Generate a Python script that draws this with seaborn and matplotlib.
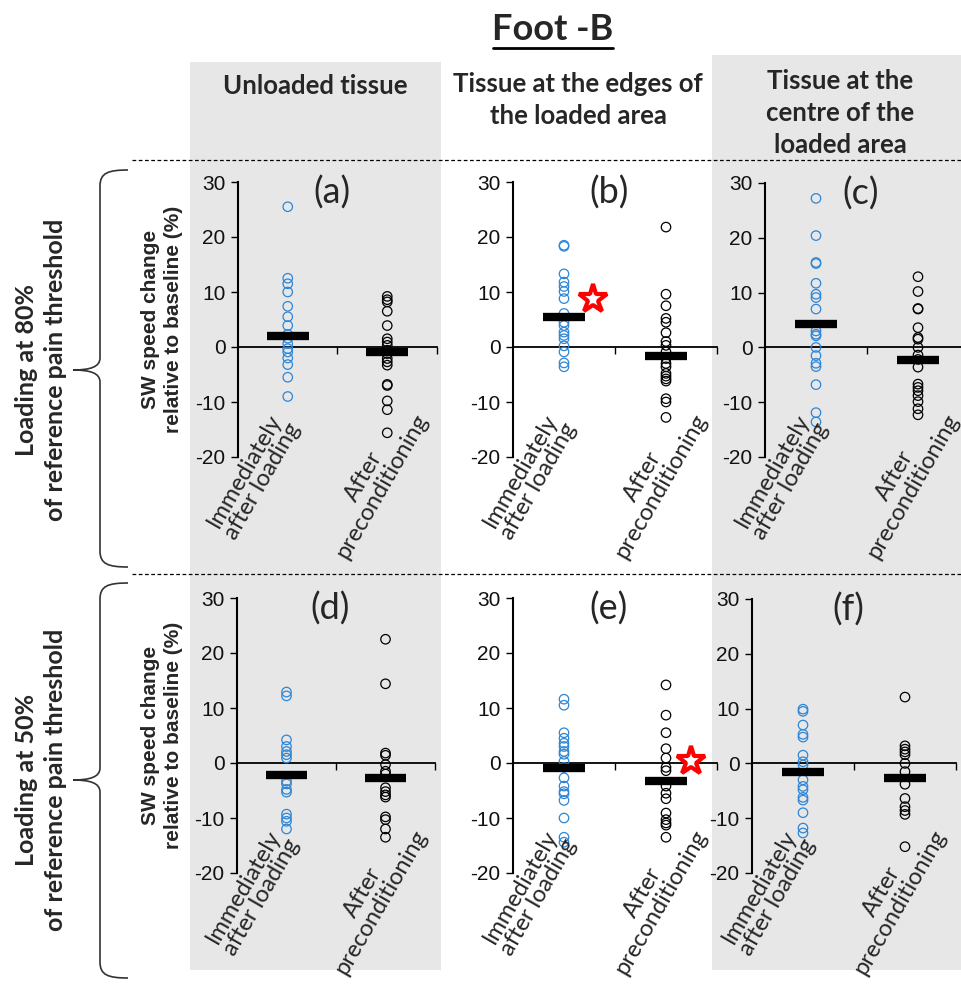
import numpy as np
import pandas as pd
import matplotlib
matplotlib.use("Agg")
import matplotlib.pyplot as plt
import matplotlib.transforms as mtransforms
import seaborn as sns
from matplotlib.patches import Rectangle, PathPatch
from matplotlib.path import Path
from matplotlib.lines import Line2D

sns.set_theme(style="white")
plt.rcParams["font.family"] = ["Lato", "DejaVu Sans"]
plt.rcParams["axes.unicode_minus"] = False

# ---------------- data ----------------
conditions = ["Immediately\nafter loading", "After\npreconditioning"]
panel_letters = ["(a)", "(b)", "(c)", "(d)", "(e)", "(f)"]
column_titles = ["Unloaded tissue", "Tissue at the edges of\nthe loaded area",
                 "Tissue at the\ncentre of the\nloaded area"]
row_titles = ["Loading at 80%\nof reference pain threshold",
              "Loading at 50%\nof reference pain threshold"]
y_ticks = [-20, -10, 0, 10, 20, 30]

# 80% loading
a_loading = [25.5, 12.5, 11.5, 10.0, 7.4, 5.5, 3.9, 2.3, 1.6, 0.6, -0.3, -0.9, -2.0, -3.2, -5.5, -9.0]
a_precond = [9.2, 8.6, 8.2, 6.5, 3.9, 1.5, 0.9, 0.3, -0.6, -1.2, -2.1, -2.7, -3.3, -6.8, -7.0, -9.8, -11.4, -15.6]
b_loading = [18.5, 18.3, 13.3, 11.8, 11.0, 10.1, 8.8, 6.1, 4.5, 3.9, 2.7, 2.1, 1.5, 0.2, -0.9, -2.9, -3.6]
b_precond = [21.8, 9.6, 7.5, 5.2, 4.5, 2.6, 1.0, 0.3, -0.9, -2.1, -3.0, -3.6, -4.8, -5.3, -5.8, -6.2, -9.4, -10.0, -12.8]
c_loading = [27.2, 20.4, 15.5, 15.3, 11.7, 9.7, 9.1, 7.0, 3.0, 2.4, 2.1, 0.0, -1.5, -2.9, -3.5, -6.8, -11.9, -13.6]
c_precond = [12.9, 10.2, 7.1, 7.0, 3.6, 1.8, 1.5, 0.0, -1.4, -2.2, -3.6, -6.7, -7.3, -7.9, -8.8, -9.9, -11.2, -12.3]
# 50% loading
d_loading = [12.9, 12.2, 4.2, 3.0, 2.1, 1.5, 0.9, -3.3, -3.8, -4.8, -5.3, -9.3, -10.0, -10.6, -12.0]
d_precond = [22.5, 14.4, 1.8, 1.4, -0.3, -1.5, -2.0, -4.5, -5.2, -5.8, -6.2, -9.8, -10.3, -12.0, -13.5]
e_loading = [11.6, 10.5, 5.5, 4.5, 3.6, 3.0, 2.1, 1.6, 0.3, -0.8, -2.7, -4.2, -5.2, -5.6, -6.8, -10.0, -13.5, -14.4]
e_precond = [14.2, 8.7, 5.5, 2.6, 0.9, -0.8, -1.4, -4.2, -5.5, -6.5, -9.1, -10.3, -10.9, -11.3, -13.5]
f_loading = [9.9, 9.5, 7.0, 5.3, 4.8, 1.5, 0.3, -0.3, -3.0, -4.2, -4.8, -6.2, -6.7, -9.0, -11.8, -12.7]
f_precond = [12.1, 3.2, 2.6, 2.1, 1.6, 0.0, -1.5, -3.8, -6.4, -7.9, -8.6, -9.3, -15.2]

# black bars (group centre values)
centre_loading = [2.0, 5.4, 4.2, -2.1, -0.9, -1.6]
centre_precond = [-0.9, -1.6, -2.3, -2.8, -3.2, -2.6]

# red stars (panel index, x position in category units, y value)
star_panels = [1, 4]
star_x = [0.28, 1.25]
star_y = [8.8, 0.3]

loading_sets = [a_loading, b_loading, c_loading, d_loading, e_loading, f_loading]
precond_sets = [a_precond, b_precond, c_precond, d_precond, e_precond, f_precond]

BLUE = "#2E86D6"
GRAY = "#E7E7E7"
W, H = 962, 986


def fx(px):
    return px / W


def fy(py):
    return 1 - py / H


fig = plt.figure(figsize=(W / 100, H / 100), dpi=100)
fig.patch.set_facecolor("white")

# grey column backgrounds
fig.add_artist(Rectangle((fx(190), fy(970)), fx(441) - fx(190), fy(62) - fy(970),
                         transform=fig.transFigure, facecolor=GRAY, edgecolor="none", zorder=-5))
fig.add_artist(Rectangle((fx(712), fy(970)), fx(962) - fx(712), fy(55) - fy(970),
                         transform=fig.transFigure, facecolor=GRAY, edgecolor="none", zorder=-5))

# axes boxes in pixels: left, top, right, bottom
boxes = [(238, 182, 437, 457), (513, 182, 717, 457), (765, 183, 969, 457),
         (237, 598, 435, 873), (513, 598, 717, 873), (752, 599, 956, 873)]

for i, (l, t, r, b) in enumerate(boxes):
    ax = fig.add_axes([fx(l), fy(b), fx(r) - fx(l), fy(t) - fy(b)])
    ax.set_facecolor("none")
    df = pd.DataFrame({
        "cond": [conditions[0]] * len(loading_sets[i]) + [conditions[1]] * len(precond_sets[i]),
        "val": loading_sets[i] + precond_sets[i],
    })
    sns.stripplot(data=df, x="cond", y="val", hue="cond", order=conditions,
                  hue_order=conditions, palette=[BLUE, "black"], jitter=False,
                  size=6.8, linewidth=0.9, legend=False, ax=ax, zorder=3)
    for coll in ax.collections:
        fc = coll.get_facecolor()
        coll.set_edgecolor(fc)
        coll.set_facecolor("none")

    # group centre bars
    for k, v in enumerate([centre_loading[i], centre_precond[i]]):
        ax.plot([k - 0.21, k + 0.21], [v, v], color="black", lw=6, solid_capstyle="butt", zorder=4)

    ax.set_xlim(-0.5, 1.5)
    ax.set_ylim(-20, 30)
    ax.set_xlabel("")
    ax.set_ylabel("")
    ax.set_xticks([0.5, 1.5])
    ax.set_xticklabels([])
    ax.set_yticks(y_ticks)
    ax.set_yticklabels([str(v) for v in y_ticks], fontfamily="Liberation Sans", fontsize=15, color="#111111")
    ax.tick_params(axis="y", direction="out", length=5, width=1, pad=4, left=True, color="black")
    ax.tick_params(axis="x", direction="out", length=5, width=1, bottom=True, color="black")
    for s in ["top", "right"]:
        ax.spines[s].set_visible(False)
    ax.spines["bottom"].set_position(("data", 0))
    ax.spines["left"].set_linewidth(1.5)
    ax.spines["bottom"].set_linewidth(1.3)
    ax.spines["left"].set_color("black")
    ax.spines["bottom"].set_color("black")

    # category labels
    trans = mtransforms.blended_transform_factory(ax.transData, ax.transAxes)
    ax.text(-0.34, -0.068, conditions[0], transform=trans, rotation=60, ha="center",
            va="center", fontsize=17, linespacing=1.0, clip_on=False)
    ax.text(0.86, -0.088, conditions[1], transform=trans, rotation=60, ha="center",
            va="center", fontsize=17, linespacing=1.0, clip_on=False)

    ax.text(0.47, 0.96, panel_letters[i], transform=ax.transAxes, ha="center", va="center",
            fontsize=26)

    if i in star_panels:
        j = star_panels.index(i)
        ax.plot([star_x[j]], [star_y[j]], marker="*", markersize=21, mfc="white",
                mec="red", mew=3, ls="none", zorder=5, clip_on=False)

    if l < 300:
        fig.text(fx(162), fy((t + b) / 2), "SW speed change\nrelative to baseline (%)",
                 rotation=90, ha="center", va="center", fontsize=15, fontweight="bold",
                 fontfamily="Liberation Sans", linespacing=1.3)

# title
fig.text(fx(553), fy(30), "Foot -B", ha="center", va="center", fontsize=26, fontweight="bold")
fig.add_artist(Line2D([fx(493), fx(613)], [fy(48), fy(48)], transform=fig.transFigure,
                      color="black", lw=2))

# column headers
header_y = [86, 100, 113]
header_x = [315, 578, 840]
for k in range(3):
    fig.text(fx(header_x[k]), fy(header_y[k]), column_titles[k], ha="center", va="center",
             fontsize=18.5, fontweight="bold", linespacing=1.4)

# row titles
for k, yc in enumerate([370, 780]):
    fig.text(fx(41), fy(yc), row_titles[k], rotation=90, ha="center", va="center",
             fontsize=18, fontweight="bold", linespacing=1.35)

# dashed separators
for yy in [160, 574]:
    fig.add_artist(Line2D([fx(132), fx(962)], [fy(yy), fy(yy)], transform=fig.transFigure,
                          color="black", lw=0.9, ls=(0, (3, 2))))


# braces
def brace(y0, ym, y1):
    xe, xv, xt = 128, 100, 73
    pts = [(xe, y0), (108, y0), (xv, y0 + 3), (xv, y0 + 16),
           (xv, ym - 12),
           (xv, ym - 3), (90, ym), (xt, ym),
           (90, ym), (xv, ym + 3), (xv, ym + 12),
           (xv, y1 - 16),
           (xv, y1 - 3), (108, y1), (xe, y1)]
    codes = [Path.MOVETO, Path.CURVE4, Path.CURVE4, Path.CURVE4,
             Path.LINETO,
             Path.CURVE4, Path.CURVE4, Path.CURVE4,
             Path.CURVE4, Path.CURVE4, Path.CURVE4,
             Path.LINETO,
             Path.CURVE4, Path.CURVE4, Path.CURVE4]
    verts = [(fx(px), fy(py)) for px, py in pts]
    fig.add_artist(PathPatch(Path(verts, codes), transform=fig.transFigure,
                             facecolor="none", edgecolor="#333333", lw=1.2))


brace(170, 370, 567)
brace(583, 780, 978)

fig.savefig("out.png", dpi=100)
